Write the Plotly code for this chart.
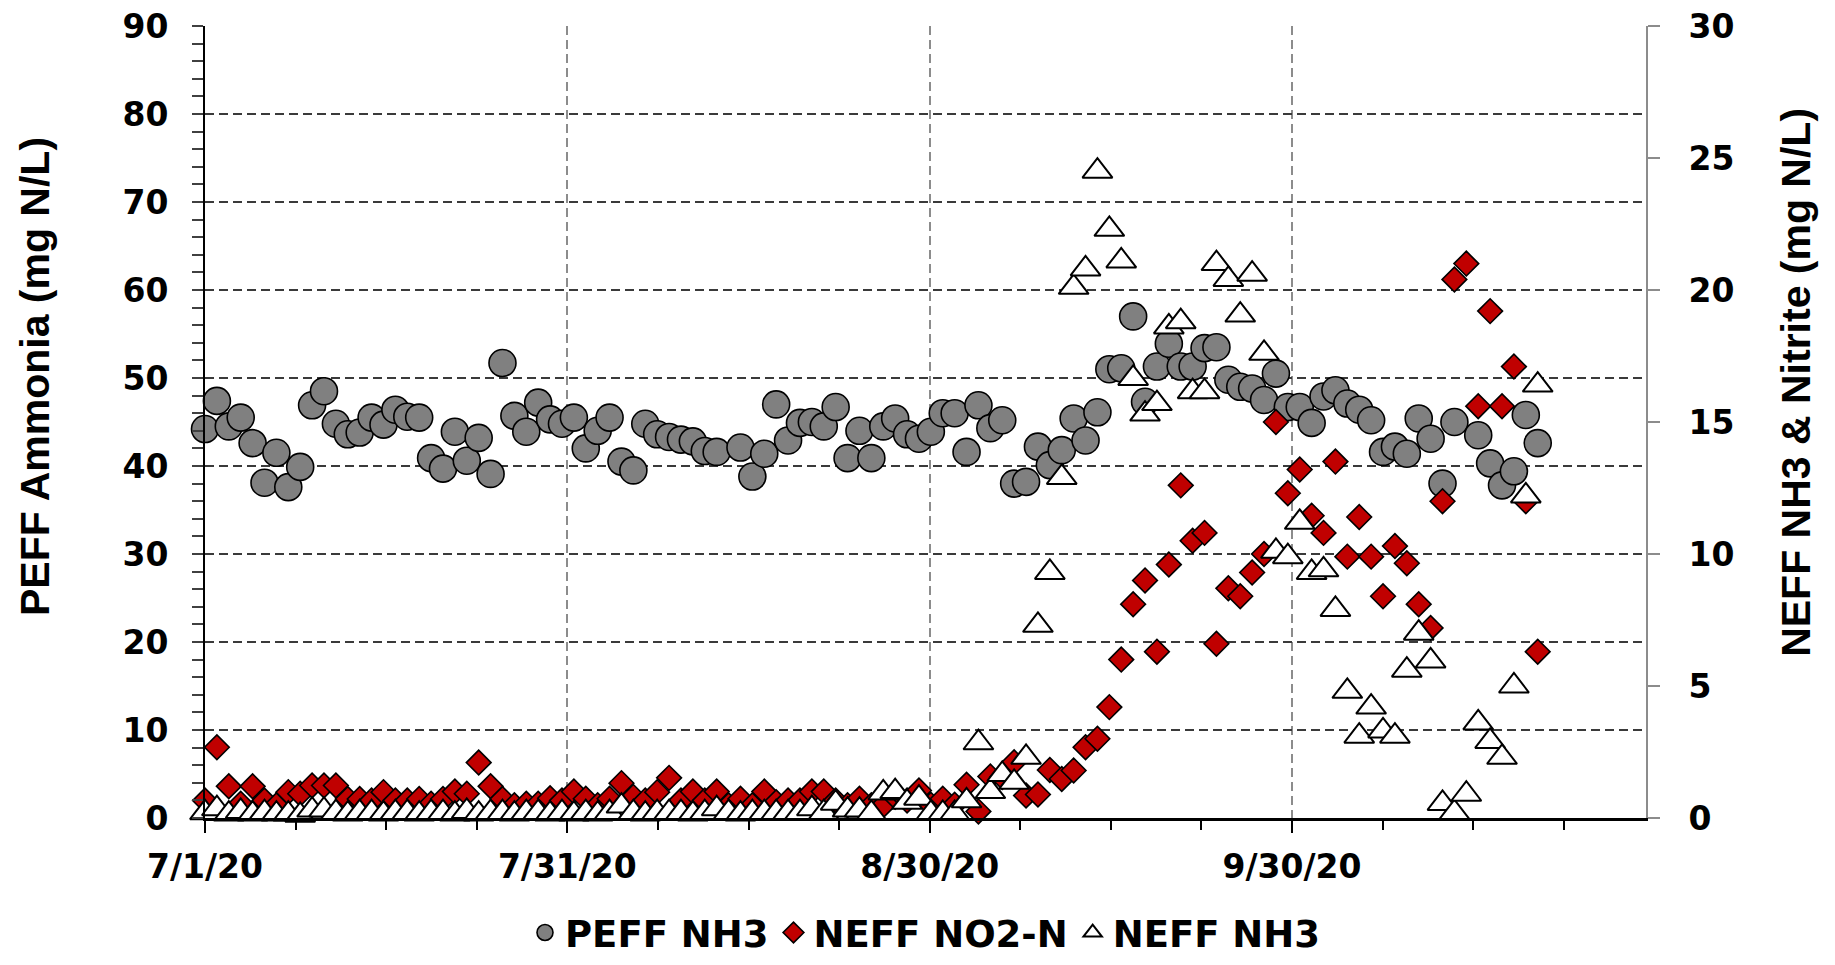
import pandas as pd
import plotly.graph_objects as go

# ---------------- data (daily samples starting 7/1/20) ----------------
start_date = "2020-07-01"
n_days = 113
dates = pd.date_range(start_date, periods=n_days, freq="D")

# PEFF NH3 (left axis, mg N/L); None = no sample
peff_nh3 = [
    44.2, 47.4, 44.5, 45.5, 42.6, 38.1, 41.5, 37.6, 39.9, 46.9,
    48.5, 44.8, 43.6, 43.8, 45.5, 44.7, 46.4, 45.6, 45.5, 40.9,
    39.7, 43.9, 40.6, 43.2, 39.1, 51.7, 45.7, 43.9, 47.2, 45.3,
    44.8, 45.5, 42.0, 44.0, 45.5, 40.5, 39.5, 44.8, 43.6, 43.3,
    43.0, 42.8, 41.7, 41.6, None, 42.1, 38.8, 41.4, 47.0, 42.9,
    44.9, 45.0, 44.5, 46.7, 40.9, 44.0, 40.9, 44.5, 45.4, 43.6,
    43.1, 43.9, 46.0, 46.0, 41.6, 46.9, 44.3, 45.2, 38.0, 38.2,
    42.2, 40.1, 41.8, 45.4, 42.9, 46.1, 51.0, 51.1, 57.0, 47.3,
    51.3, 53.9, 51.3, 51.3, 53.4, 53.5, 49.8, 49.0, 48.8, 47.5,
    50.5, 46.7, 46.7, 44.9, 47.9, 48.6, 47.1, 46.4, 45.2, 41.6,
    42.2, 41.4, 45.4, 43.1, 38.0, 45.0, None, 43.5, 40.3, 37.8,
    39.4, 45.8, 42.6,
]

# NEFF NO2-N (right axis, mg N/L)
neff_no2 = [
    0.66, 2.68, 1.2, 0.54, 1.2, 0.66, 0.48, 0.98, 0.92, 1.23,
    1.23, 1.23, 0.72, 0.72, 0.66, 0.98, 0.66, 0.66, 0.72, 0.54,
    0.72, 1.0, 0.92, 2.1, 1.2, 0.72, 0.48, 0.54, 0.54, 0.75,
    0.66, 1.0, 0.73, 0.48, 0.73, 1.32, 0.8, 0.66, 0.98, 1.52,
    0.66, 1.0, 0.66, 1.0, 0.48, 0.73, 0.48, 1.0, 0.6, 0.66,
    0.66, 1.0, 1.0, 0.66, 0.48, 0.73, 0.48, 0.48, 0.8, 0.66,
    1.04, 0.5, 0.73, 0.5, 1.26, 0.25, 1.57, 1.55, 2.11, 0.85,
    0.89, 1.82, 1.48, 1.8, 2.68, 3.0, 4.2, 6.0, 8.1, 9.0,
    6.3, 9.6, 12.6, 10.5, 10.8, 6.6, 8.7, 8.4, 9.3, 10.0,
    15.0, 12.3, 13.2, 11.45, 10.8, 13.5, 9.9, 11.4, 9.9, 8.4,
    10.3, 9.65, 8.1, 7.2, 12.0, 20.4, 21.0, 15.6, 19.2, 15.6,
    17.1, 12.0, 6.3,
]

# NEFF NH3 (right axis, mg N/L)
neff_nh3 = [
    0.2, 0.35, 0.15, 0.25, 0.15, 0.2, 0.15, 0.15, 0.1, 0.3,
    0.3, 0.2, 0.15, 0.2, 0.2, 0.15, 0.2, 0.2, 0.15, 0.2,
    0.2, 0.15, 0.25, 0.15, 0.2, 0.2, 0.15, 0.2, 0.2, 0.15,
    0.2, 0.15, 0.2, 0.15, 0.2, 0.45, 0.2, 0.15, 0.2, 0.2,
    0.2, 0.15, 0.2, 0.35, 0.2, 0.15, 0.2, 0.2, 0.2, 0.2,
    0.2, 0.35, 0.2, 0.56, 0.3, 0.3, 0.17, 0.95, 1.0, 0.6,
    0.75, 0.17, 0.17, 0.17, 0.65, 2.85, 1.0, 1.65, 1.35, 2.3,
    7.3, 9.3, 12.9, 20.1, 20.8, 24.5, 22.3, 21.1, 16.65, 15.3,
    15.7, 18.6, 18.8, 16.15, 16.15, 21.0, 20.4, 19.05, 20.6, 17.6,
    10.1, 9.9, 11.2, 9.3, 9.4, 7.9, 4.8, 3.1, 4.2, 3.3,
    3.1, 5.6, 7.0, 5.95, 0.55, 0.2, 0.9, 3.6, 2.9, 2.3,
    5.0, 12.2, 16.4,
]

series_names = ["PEFF NH3", "NEFF NO2-N", "NEFF NH3"]
left_title = "PEFF Ammonia (mg N/L)"
right_title = "NEFF NH3 & Nitrite (mg N/L)"

# x axis: major spacing ~30.45 days, axis spans ~121.1 days
day_ms = 86400000
major_days = 30.45
span_days = 121.1
x_end = pd.Timestamp(start_date) + pd.Timedelta(days=span_days)

tick_font = dict(family="DejaVu Sans", size=33, color="black", weight="bold")

fig = go.Figure()
fig.add_trace(go.Scatter(
    x=dates, y=peff_nh3, name=series_names[0], mode="markers",
    marker=dict(symbol="circle", size=27, color="#808080",
                line=dict(color="black", width=1.6)),
    yaxis="y", cliponaxis=False,
))
fig.add_trace(go.Scatter(
    x=dates, y=neff_no2, name=series_names[1], mode="markers",
    marker=dict(symbol="diamond", size=19, color="#C00000",
                line=dict(color="black", width=1.6)),
    yaxis="y2", cliponaxis=False,
))
fig.add_trace(go.Scatter(
    x=dates, y=neff_nh3, name=series_names[2], mode="markers",
    marker=dict(symbol="triangle-up", size=26, color="white",
                line=dict(color="black", width=2)),
    yaxis="y2", cliponaxis=False,
))

fig.update_layout(
    width=1835, height=965,
    margin=dict(l=205, r=189, t=26, b=147, autoexpand=False),
    paper_bgcolor="white", plot_bgcolor="white",
    showlegend=True,
    legend=dict(orientation="h", x=0.5, xanchor="center",
                y=-0.1843, yanchor="bottom",
                font=dict(family="DejaVu Sans", size=37, color="black",
                          weight="bold"),
                itemsizing="trace", bgcolor="rgba(0,0,0,0)"),
    xaxis=dict(
        type="date",
        range=[pd.Timestamp(start_date), x_end],
        tick0=start_date, dtick=major_days * day_ms,
        tickformat="%-m/%-d/%y",
        showgrid=True, gridcolor="#8c8c8c", gridwidth=2, griddash="9px,5px",
        showline=True, linecolor="black", linewidth=2.5,
        ticks="outside", ticklen=12, tickwidth=2, tickcolor="black",
        minor=dict(dtick=major_days * day_ms / 4, tick0=start_date,
                   ticks="outside", ticklen=9, tickwidth=2,
                   tickcolor="black", showgrid=False),
        tickfont=tick_font, zeroline=False, ticklabelstandoff=6,
    ),
    yaxis=dict(
        range=[0, 90], dtick=10, tick0=0,
        showgrid=True, gridcolor="#3a3a3a", gridwidth=2, griddash="9px,5px",
        showline=True, linecolor="black", linewidth=2,
        ticks="outside", ticklen=11, tickwidth=1.5, tickcolor="#404040",
        minor=dict(dtick=2, ticks="outside", ticklen=11, tickwidth=1.5,
                   tickcolor="#404040", showgrid=False),
        tickfont=tick_font, zeroline=False, ticklabelstandoff=17,
    ),
    yaxis2=dict(
        range=[0, 30], dtick=5, tick0=0, overlaying="y", side="right",
        showgrid=False, showline=True, linecolor="#8c8c8c", linewidth=2,
        ticks="outside", ticklen=12, tickwidth=1.5, tickcolor="#8c8c8c",
        tickfont=tick_font, zeroline=False, ticklabelstandoff=22,
    ),
    annotations=[
        dict(text=left_title, xref="paper", yref="paper",
             x=-0.118, y=0.558, xanchor="center", yanchor="middle",
             textangle=-90, showarrow=False,
             font=dict(family="Liberation Sans", size=41, color="black",
                       weight="bold")),
        dict(text=right_title, xref="paper", yref="paper",
             x=1.104, y=0.5505, xanchor="center", yanchor="middle",
             textangle=-90, showarrow=False,
             font=dict(family="Liberation Sans", size=41, color="black",
                       weight="bold")),
    ],
)

fig.write_html("out.html")
